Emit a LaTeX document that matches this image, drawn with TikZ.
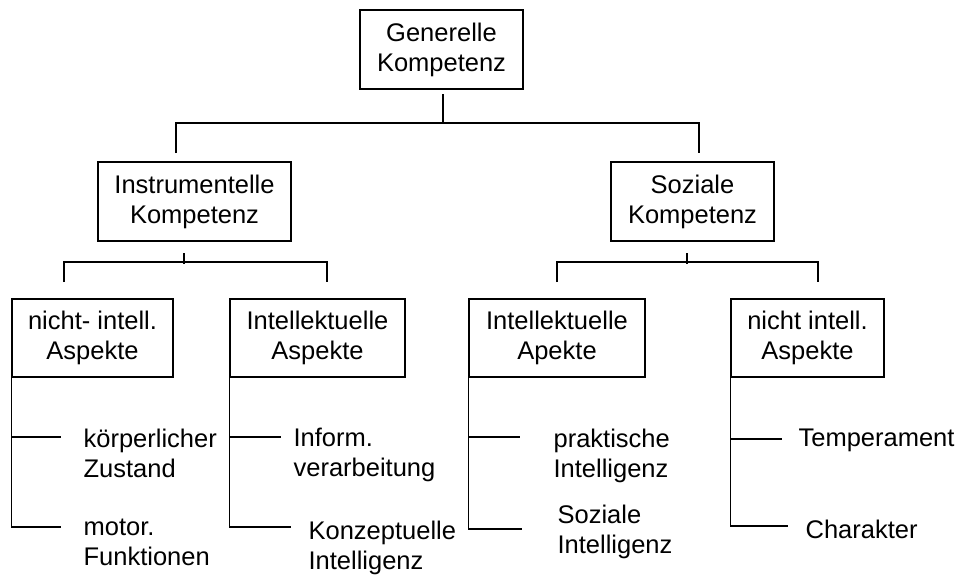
\documentclass[tikz,border=0pt]{standalone}
\usepackage{fontspec}
\setmainfont{Liberation Sans}
\begin{document}
\begin{tikzpicture}[x=1pt,y=-1pt,
  line width=1.2pt,
  box/.style={draw, line width=1.2pt, align=center, inner sep=0pt,
    font=\fontsize{25.5}{30}\selectfont},
  leaf/.style={anchor=west, align=left, inner sep=0pt,
    font=\fontsize{25.5}{30}\selectfont}]
\useasboundingbox (0,0) rectangle (962,579);
% boxes
\node[box, minimum width=163pt, minimum height=79pt] (gen) at (441.5,49.5) {Generelle\\Kompetenz};
\node[box, minimum width=193pt, minimum height=79pt] (ins) at (194.5,201.5) {Instrumentelle\\Kompetenz};
\node[box, minimum width=163pt, minimum height=79pt] (soz) at (692.5,201.5) {Soziale\\Kompetenz};
\node[box, minimum width=161pt, minimum height=78pt] (nia) at (92.5,338) {nicht- intell.\\Aspekte};
\node[box, minimum width=175pt, minimum height=78pt] (ina) at (317.5,338) {Intellektuelle\\Aspekte};
\node[box, minimum width=176pt, minimum height=78pt] (isa) at (557,338) {Intellektuelle\\Apekte};
\node[box, minimum width=153pt, minimum height=78pt] (nsa) at (807.5,338) {nicht intell.\\Aspekte};
% leaves
\node[leaf] (l1) at (83,453) {körperlicher\\Zustand};
\node[leaf] (l2) at (83,542) {motor.\\Funktionen};
\node[leaf] (l3) at (293,455) {Inform.\\verarbeitung};
\node[leaf] (l4) at (308,548) {Konzeptuelle\\Intelligenz};
\node[leaf] (l5) at (553,456) {praktische\\Intelligenz};
\node[leaf] (l6) at (557,532) {Soziale\\Intelligenz};
\node[leaf] (l7) at (798,440) {Temperament};
\node[leaf] (l8) at (805,529) {Charakter};
% top connector
\coordinate (g0) at (443,94);
\coordinate (g1) at (443,123);
\coordinate (gl) at (176,153);
\coordinate (gr) at (699,153);
\draw (g0) -- (g1);
\draw (gl) |- (g1) -| (gr);
% instrumentelle connector
\coordinate (i0) at (184,253);
\coordinate (i1) at (184,264);
\coordinate (ih) at (184,262);
\coordinate (il) at (64,282);
\coordinate (ir) at (327,282);
\draw (i0) -- (i1);
\draw (il) |- (ih) -| (ir);
% soziale connector
\coordinate (s0) at (687,253);
\coordinate (s1) at (687,264);
\coordinate (sh) at (687,262);
\coordinate (sl) at (557,282);
\coordinate (sr) at (818,282);
\draw (s0) -- (s1);
\draw (sl) |- (sh) -| (sr);
% leaf trees
\coordinate (a1) at (61,437);
\coordinate (a2) at (61,527);
\draw (nia.south west) |- (a1);
\draw (nia.south west) |- (a2);
\coordinate (b1) at (281,437);
\coordinate (b2) at (291,527);
\draw (ina.south west) |- (b1);
\draw (ina.south west) |- (b2);
\coordinate (c1) at (520,437);
\coordinate (c2) at (522,529);
\draw (isa.south west) |- (c1);
\draw (isa.south west) |- (c2);
\coordinate (d1) at (782,439);
\coordinate (d2) at (788,526);
\draw (nsa.south west) |- (d1);
\draw (nsa.south west) |- (d2);
\end{tikzpicture}
\end{document}
